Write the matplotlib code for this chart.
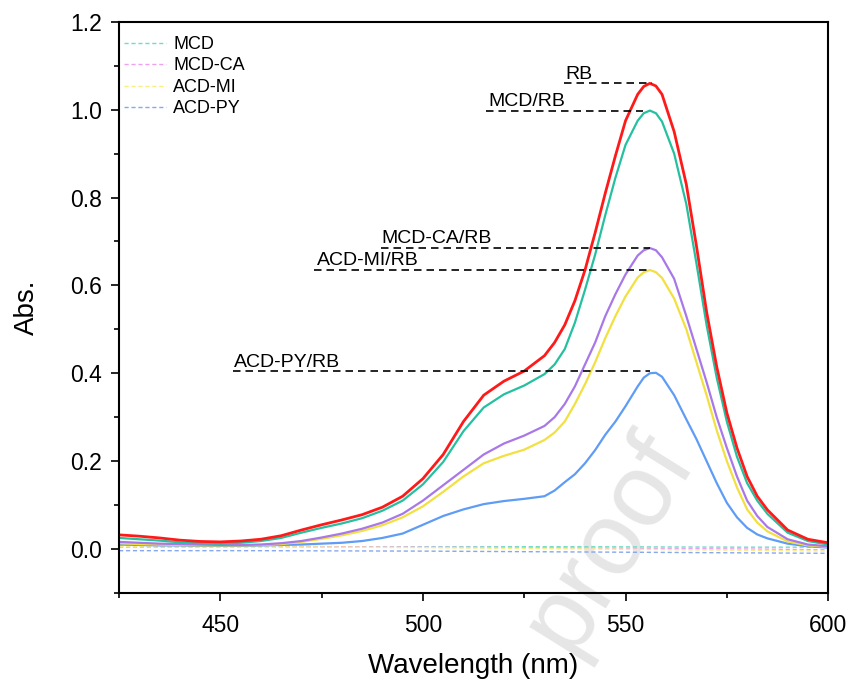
import numpy as np
import matplotlib
matplotlib.use("Agg")
import matplotlib.pyplot as plt
from matplotlib.ticker import MultipleLocator

plt.rcParams['font.family'] = ['Liberation Sans', 'DejaVu Sans']

# wavelength grid (nm)
wl = [425, 430, 435, 440, 445, 450, 455, 460, 465, 470, 475, 480, 485, 490, 495,
      500, 505, 510, 515, 520, 525, 530, 532.5, 535, 537.5, 540, 542.5, 545, 547.5,
      550, 553, 554.5, 556, 557.5, 559, 562, 565, 567.5, 570, 572.5, 575, 577.5, 580,
      582.5, 585, 590, 595, 600]

rb = [0.032, 0.029, 0.025, 0.020, 0.017, 0.016, 0.018, 0.022, 0.030, 0.043, 0.055, 0.066,
      0.078, 0.095, 0.120, 0.160, 0.215, 0.290, 0.350, 0.382, 0.405, 0.440, 0.470, 0.510,
      0.565, 0.635, 0.720, 0.810, 0.895, 0.975, 1.035, 1.053, 1.060, 1.054, 1.035, 0.950,
      0.830, 0.690, 0.540, 0.415, 0.310, 0.230, 0.165, 0.120, 0.089, 0.043, 0.022, 0.014]
mcd_rb = [0.025, 0.022, 0.019, 0.015, 0.013, 0.012, 0.014, 0.018, 0.025, 0.037, 0.048, 0.058,
          0.070, 0.087, 0.110, 0.147, 0.198, 0.268, 0.322, 0.352, 0.372, 0.398, 0.420, 0.455,
          0.515, 0.590, 0.670, 0.760, 0.845, 0.920, 0.975, 0.992, 0.998, 0.992, 0.973, 0.900,
          0.785, 0.650, 0.510, 0.390, 0.290, 0.210, 0.150, 0.110, 0.080, 0.037, 0.018, 0.010]
mcdca_rb = [0.016, 0.014, 0.012, 0.011, 0.010, 0.009, 0.009, 0.010, 0.013, 0.018, 0.026, 0.035,
            0.046, 0.060, 0.080, 0.110, 0.145, 0.180, 0.215, 0.240, 0.258, 0.280, 0.300, 0.330,
            0.370, 0.420, 0.470, 0.530, 0.580, 0.625, 0.668, 0.680, 0.685, 0.680, 0.664, 0.615,
            0.530, 0.455, 0.380, 0.300, 0.230, 0.165, 0.110, 0.075, 0.050, 0.022, 0.010, 0.006]
acdmi_rb = [0.013, 0.011, 0.010, 0.009, 0.008, 0.008, 0.008, 0.009, 0.011, 0.016, 0.023, 0.031,
            0.041, 0.054, 0.072, 0.097, 0.130, 0.165, 0.195, 0.212, 0.226, 0.248, 0.265, 0.290,
            0.330, 0.375, 0.425, 0.480, 0.530, 0.575, 0.618, 0.630, 0.635, 0.630, 0.617, 0.570,
            0.500, 0.425, 0.350, 0.270, 0.200, 0.140, 0.090, 0.060, 0.040, 0.017, 0.008, 0.005]
acdpy_rb = [0.010, 0.009, 0.008, 0.008, 0.007, 0.007, 0.007, 0.008, 0.009, 0.010, 0.012, 0.014,
            0.018, 0.025, 0.035, 0.055, 0.075, 0.090, 0.102, 0.109, 0.114, 0.120, 0.133, 0.152,
            0.170, 0.195, 0.225, 0.260, 0.290, 0.325, 0.370, 0.390, 0.400, 0.401, 0.392, 0.350,
            0.295, 0.250, 0.200, 0.150, 0.105, 0.072, 0.048, 0.033, 0.024, 0.012, 0.006, 0.003]

# blank references (dashed)
wl_blank = [425, 460, 500, 540, 580, 600]
mcd = [0.004, 0.005, 0.005, 0.005, 0.004, 0.004]
mcdca = [0.006, 0.006, 0.004, 0.002, 0.000, -0.002]
acdmi = [0.005, 0.005, 0.003, 0.000, -0.003, -0.005]
acdpy = [-0.004, -0.004, -0.005, -0.007, -0.009, -0.010]

solid_series = [
    ("RB", rb, "#ff1a1a"),
    ("MCD/RB", mcd_rb, "#25c0a0"),
    ("MCD-CA/RB", mcdca_rb, "#a878e8"),
    ("ACD-MI/RB", acdmi_rb, "#f2e040"),
    ("ACD-PY/RB", acdpy_rb, "#5e9cf5"),
]
blank_series = [
    ("MCD", mcd, "#70dcc8"),
    ("MCD-CA", mcdca, "#f0a0f0"),
    ("ACD-MI", acdmi, "#f8ef80"),
    ("ACD-PY", acdpy, "#86a8f0"),
]

# annotation: label, start wavelength of dashed guide, end wl, level
ann_labels = ["RB", "MCD/RB", "MCD-CA/RB", "ACD-MI/RB", "ACD-PY/RB"]
ann_start = [534.7, 515.5, 489.6, 473.0, 453.1]
ann_end = [556.6, 554.4, 556.1, 556.1, 556.1]
ann_y = [1.06, 0.998, 0.685, 0.635, 0.404]
ann_text_x = [535.2, 516.2, 489.8, 473.8, 453.3]

fig = plt.figure(figsize=(8.52, 6.83), dpi=100)
ax = fig.add_axes([0.1397, 0.132, 0.8323, 0.836])
ax.patch.set_alpha(0)
ax.set_zorder(2)

# watermark sits behind the plot
fig.text(0.715, 0.205, "proof", rotation=58, fontsize=74, color="#e6e6e6",
         ha="center", va="center", zorder=1)

for name, y, c in blank_series:
    ax.plot(wl_blank, y, linestyle=(0, (3, 2)), color=c, lw=1.0, label=name)
for name, y, c in solid_series[::-1]:
    lw = 2.0 if name == "RB" else 1.6
    ax.plot(wl, y, color=c, lw=lw, solid_joinstyle="round")

for lab, x0, x1, yv, tx in zip(ann_labels, ann_start, ann_end, ann_y, ann_text_x):
    ax.plot([x0, x1], [yv, yv], color="black", lw=1.2, linestyle=(0, (4.5, 3)))
    ax.text(tx, yv + 0.011, lab, fontsize=14, ha="left", va="baseline")

ax.set_xlim(425, 600)
ax.set_ylim(-0.1, 1.2)
ax.xaxis.set_major_locator(MultipleLocator(50))
ax.xaxis.set_minor_locator(MultipleLocator(25))
ax.yaxis.set_major_locator(MultipleLocator(0.2))
ax.yaxis.set_minor_locator(MultipleLocator(0.1))
ax.yaxis.set_major_formatter(plt.FuncFormatter(lambda v, p: "%.1f" % v))
ax.tick_params(direction="out", which="major", length=6, width=1.2, labelsize=16.5, pad=6)
ax.tick_params(axis="x", which="major", pad=9)
ax.tick_params(direction="out", which="minor", length=3.5, width=1.2)
for s in ax.spines.values():
    s.set_linewidth(1.5)

ax.set_xlabel("Wavelength (nm)", fontsize=20, labelpad=12)
ax.set_ylabel("Abs.", fontsize=20, labelpad=22)

leg = ax.legend(loc="upper left", frameon=False, fontsize=13, handlelength=2.3,
                handletextpad=0.4, labelspacing=0.25, borderpad=0.2,
                borderaxespad=0.1, bbox_to_anchor=(0.0, 0.985))

fig.savefig("out.png", dpi=100)
